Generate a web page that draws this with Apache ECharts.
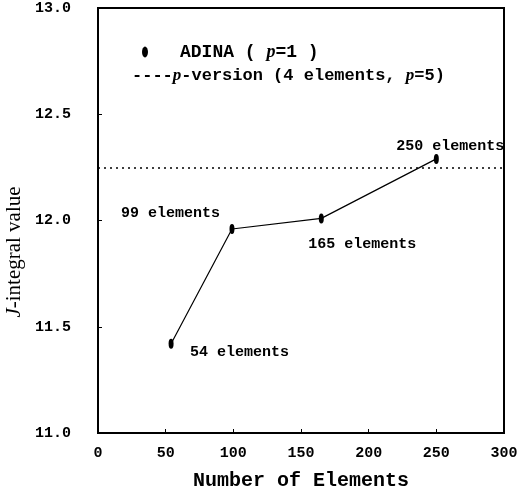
<!DOCTYPE html>
<html>
<head>
<meta charset="utf-8">
<script src="https://cdn.jsdelivr.net/npm/echarts@6/dist/echarts.min.js"></script>
<style>
  html, body { margin: 0; padding: 0; background: #fff; }
  #chart { width: 517px; height: 493px; }
</style>
</head>
<body>
<div id="chart"></div>
<script>
// Mesh sizes (number of elements) and the J-integral values computed by ADINA (p=1)
const elementCounts = [54, 99, 165, 250];
const jValues = [11.42, 11.96, 12.01, 12.29];
const pointLabels = ['54 elements', '99 elements', '165 elements', '250 elements'];

// Reference value from the p-version run (4 elements, p=5)
const pVersionJ = 12.25;

// Axis ranges and ticks
const xTicks = [0, 50, 100, 150, 200, 250, 300];
const yTicks = [11.0, 11.5, 12.0, 12.5, 13.0];

const monoBold = { fontFamily: 'Liberation Mono', fontWeight: 'bold', color: '#000' };

// Label placement around each point (pixel offsets)
const labelPlacement = [
  { align: 'left', offset: [19, 8] },
  { align: 'right', offset: [-12, -16] },
  { align: 'left', offset: [-13, 26] },
  { align: 'left', offset: [-40, -13] }
];

const adinaData = elementCounts.map((n, i) => ({
  value: [n, jValues[i]],
  label: {
    show: true,
    formatter: pointLabels[i],
    position: 'inside',
    align: labelPlacement[i].align,
    verticalAlign: 'middle',
    offset: labelPlacement[i].offset,
    fontSize: 15,
    ...monoBold
  }
}));

const chart = echarts.init(document.getElementById('chart'), null, { renderer: 'canvas' });

chart.setOption({
  backgroundColor: '#fff',
  animation: false,
  grid: {
    left: 98, right: 13, top: 8, bottom: 60,
    outerBoundsMode: 'none',
    containLabel: false,
    show: true, borderColor: '#000', borderWidth: 2
  },
  xAxis: {
    type: 'value',
    min: xTicks[0], max: xTicks[xTicks.length - 1], interval: 50,
    axisLine: { show: true, lineStyle: { color: '#000', width: 2 } },
    axisTick: { show: true, inside: true, length: 4, lineStyle: { color: '#000', width: 1 } },
    axisLabel: { margin: 13, fontSize: 15, ...monoBold },
    splitLine: { show: false },
    name: 'Number of Elements',
    nameLocation: 'middle',
    nameGap: 38,
    nameTextStyle: { fontSize: 20, ...monoBold }
  },
  yAxis: {
    type: 'value',
    min: yTicks[0], max: yTicks[yTicks.length - 1], interval: 0.5,
    axisLine: { show: true, lineStyle: { color: '#000', width: 2 } },
    axisTick: { show: true, inside: true, length: 4, lineStyle: { color: '#000', width: 1 } },
    axisLabel: { margin: 27, fontSize: 15, ...monoBold, formatter: v => v.toFixed(1) },
    splitLine: { show: false }
  },
  graphic: [
    // y-axis title
    {
      type: 'text',
      x: 14, y: 252,
      rotation: Math.PI / 2,
      style: {
        text: '{i|J}-integral value',
        font: '21px "Liberation Serif"',
        fill: '#000',
        align: 'center',
        verticalAlign: 'middle',
        rich: { i: { fontStyle: 'italic', fontFamily: 'Liberation Serif', fontSize: 21 } }
      }
    },
    // legend: ADINA marker and text
    {
      type: 'circle',
      x: 145, y: 52,
      scaleY: 1.8,
      shape: { cx: 0, cy: 0, r: 3 },
      style: { fill: '#000' }
    },
    {
      type: 'text',
      x: 180, y: 52,
      style: {
        text: 'ADINA ( {i|p}=1 )',
        font: 'bold 18px "Liberation Mono"',
        fill: '#000',
        verticalAlign: 'middle',
        rich: { i: { fontStyle: 'italic', fontFamily: 'Liberation Serif', fontSize: 18, fontWeight: 'bold' } }
      }
    },
    {
      type: 'text',
      x: 132, y: 76,
      style: {
        text: '----{i|p}-version (4 elements, {i|p}=5)',
        font: 'bold 17px "Liberation Mono"',
        fill: '#000',
        verticalAlign: 'middle',
        rich: { i: { fontStyle: 'italic', fontFamily: 'Liberation Serif', fontSize: 17, fontWeight: 'bold' } }
      }
    }
  ],
  series: [
    {
      name: 'ADINA ( p=1 )',
      type: 'line',
      data: adinaData,
      symbol: 'circle',
      symbolSize: [5, 10],
      itemStyle: { color: '#000' },
      lineStyle: { color: '#000', width: 1.2 },
      markLine: {
        silent: true,
        symbol: ['none', 'none'],
        label: { show: false },
        lineStyle: { color: '#000', type: [2, 4], width: 1.5 },
        data: [{ yAxis: pVersionJ }]
      },
      z: 3
    }
  ]
});
</script>
</body>
</html>
